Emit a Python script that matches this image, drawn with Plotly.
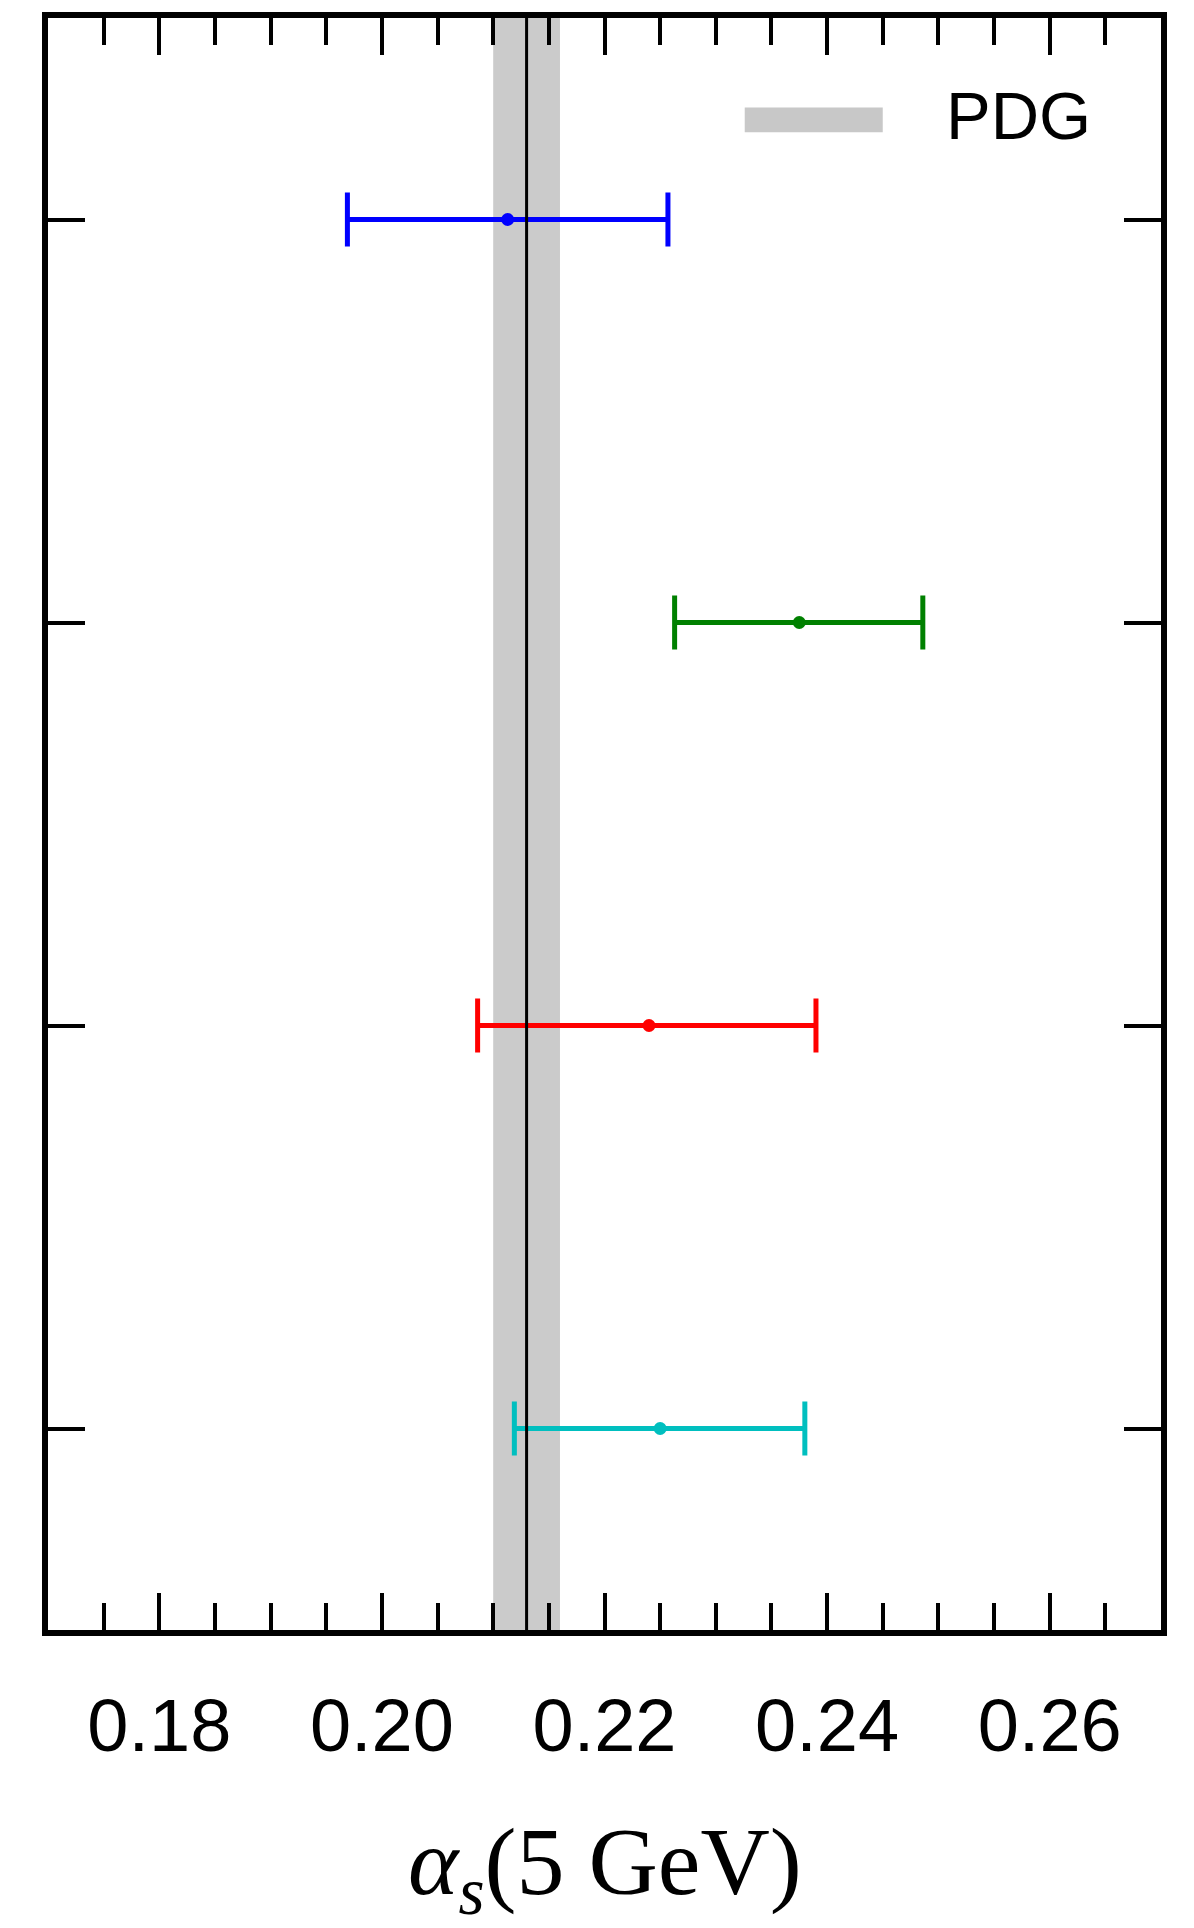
import plotly.graph_objects as go

# Determinations of the strong coupling at 5 GeV (top to bottom)
positions = [4, 3, 2, 1]
alpha_s = [0.2113, 0.2375, 0.2240, 0.2250]
err_hi = [0.0144, 0.0111, 0.0150, 0.0130]
err_lo = [0.0144, 0.0112, 0.0154, 0.0131]

# PDG world average band
pdg_value = 0.2130
pdg_error = 0.0030

x_ticks = [0.18, 0.20, 0.22, 0.24, 0.26]

colors = ["#0000ff", "#008000", "#ff0000", "#00bfbf"]

fig = go.Figure()

for y, x, hi, lo, c in zip(positions, alpha_s, err_hi, err_lo, colors):
    fig.add_trace(go.Scatter(
        x=[x], y=[y], mode="markers",
        marker=dict(color=c, size=13),
        error_x=dict(type="data", symmetric=False, array=[hi], arrayminus=[lo],
                     color=c, thickness=5, width=27),
        showlegend=False,
    ))

# PDG band and central value
fig.add_shape(type="rect", xref="x", yref="paper",
              x0=pdg_value - pdg_error, x1=pdg_value + pdg_error, y0=0, y1=1,
              fillcolor="#cbcbcb", line_width=0, layer="below")
fig.add_shape(type="line", xref="x", yref="paper",
              x0=pdg_value, x1=pdg_value, y0=0, y1=1,
              line=dict(color="black", width=3), layer="above")

# Legend key for the PDG band
fig.add_shape(type="rect", xref="paper", yref="paper",
              x0=0.626, x1=0.750, y0=0.9291, y1=0.9445,
              fillcolor="#c8c8c8", line_width=0)
fig.add_annotation(text="PDG", xref="paper", yref="paper", x=0.8046, y=0.9395,
                   xanchor="left", yanchor="middle", showarrow=False,
                   font=dict(family="Liberation Sans, Arial, sans-serif", size=67, color="black"))

# x-axis title
fig.add_annotation(text="<i>α</i><sub><i>s</i></sub>(5 GeV)", xref="paper", yref="paper",
                   x=0.5, y=-0.148, xanchor="center", yanchor="middle", showarrow=False,
                   font=dict(family="Liberation Serif, Times New Roman, serif", size=96, color="black"))

fig.update_xaxes(
    range=[0.17, 0.27], tickvals=x_ticks, tickformat=".2f",
    ticks="inside", ticklen=37, tickwidth=3.5, tickcolor="black",
    showline=True, linewidth=6, linecolor="black", mirror="ticks",
    showgrid=False, zeroline=False,
    tickfont=dict(family="Liberation Sans, Arial, sans-serif", size=74, color="black"),
    ticklabelstandoff=26,
    minor=dict(dtick=0.005, tick0=0.17, ticks="inside", ticklen=27, tickwidth=3.5,
               tickcolor="black", showgrid=False),
)
fig.update_yaxes(
    range=[0.5, 4.5], tickvals=positions, showticklabels=False,
    ticks="inside", ticklen=37, tickwidth=3.5, tickcolor="black",
    showline=True, linewidth=6, linecolor="black", mirror="ticks",
    showgrid=False, zeroline=False,
)

fig.update_layout(
    width=1194, height=1928,
    margin=dict(l=48, r=33, t=15, b=298),
    plot_bgcolor="white", paper_bgcolor="white",
    showlegend=False,
)

fig.write_html("out.html")
